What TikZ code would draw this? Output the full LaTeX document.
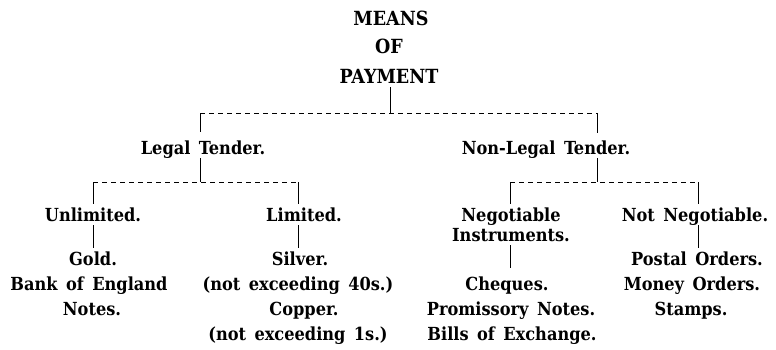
\documentclass[tikz,border=0pt]{standalone}
\usepackage{fontspec}
\setmainfont[WordSpace=1.5]{DejaVu Serif Condensed}
\begin{document}
\begin{tikzpicture}[x=1pt,y=-1pt,
  txt/.style={font=\fontsize{18}{22}\selectfont\bfseries, anchor=base, inner sep=0pt, outer sep=4pt, text height=13pt, text depth=0pt},
  ttl/.style={txt, font=\fontsize{19.5}{22}\selectfont\bfseries},
  conn/.style={line width=0.9pt},
  brk/.style={line width=0.9pt, dash pattern=on 5pt off 4pt}]
\useasboundingbox (0,0) rectangle (776,349);
% title
\node[ttl] (means) at (391,25) {MEANS};
\node[ttl] (of) at (389,53) {OF};
\node[ttl] (payment) at (389,83) {PAYMENT};
% level 1
\node[txt] (legal) at (203,154) {Legal Tender.};
\node[txt] (nonlegal) at (546,154) {Non-Legal Tender.};
% level 2
\node[txt] (unlim) at (93,221) {Unlimited.};
\node[txt] (limited) at (304,221) {Limited.};
\node[txt] (negot) at (511,221) {Negotiable};
\node[txt] (instr) at (511,241) {Instruments.};
\node[txt] (notneg) at (695,221) {Not Negotiable.};
% leaves
\node[txt] (gold) at (93,265) {Gold.};
\node[txt] (bank) at (89,290) {Bank of England};
\node[txt] (notes) at (92,315) {Notes.};
\node[txt] (silver) at (300,265) {Silver.};
\node[txt] (nexa) at (298,290) {(not exceeding 40s.)};
\node[txt] (copper) at (304,315) {Copper.};
\node[txt] (nexb) at (298,340) {(not exceeding 1s.)};
\node[txt] (cheques) at (507,290) {Cheques.};
\node[txt] (promis) at (511,315) {Promissory Notes.};
\node[txt] (bills) at (512,340) {Bills of Exchange.};
\node[txt] (postal) at (697,265) {Postal Orders.};
\node[txt] (money) at (692,290) {Money Orders.};
\node[txt] (stamps) at (691,315) {Stamps.};
% junctions
\coordinate (j0) at (390,113);
\coordinate (jLt) at (200,113);
\coordinate (jNt) at (597,113);
\coordinate (jLb) at (200,182);
\coordinate (jU) at (93,182);
\coordinate (jLim) at (298,182);
\coordinate (jNb) at (597,182);
\coordinate (jNeg) at (510,182);
\coordinate (jNot) at (698,182);
% connectors
\draw[conn] (payment.south -| j0) -- (j0);
\draw[brk] (jLt) -- (jNt);
\draw[conn, shorten >=5pt] (jLt) -- (legal.north -| jLt);
\draw[conn, shorten >=4pt] (jNt) -- (nonlegal.north -| jNt);
\draw[conn] (legal.south -| jLb) -- (jLb);
\draw[brk] (jU) -- (jLim);
\draw[conn] (jU) -- (unlim.north -| jU);
\draw[conn] (jLim) -- (limited.north -| jLim);
\draw[conn] (unlim.south -| jU) -- (gold.north -| jU);
\draw[conn] (limited.south -| jLim) -- (silver.north -| jLim);
\draw[conn] (nonlegal.south -| jNb) -- (jNb);
\draw[brk] (jNeg) -- (jNot);
\draw[conn] (jNeg) -- (negot.north -| jNeg);
\draw[conn] (jNot) -- (notneg.north -| jNot);
\draw[conn, shorten >=5pt] (instr.south -| jNeg) -- (cheques.north -| jNeg);
\draw[conn] (notneg.south -| jNot) -- (postal.north -| jNot);
\end{tikzpicture}
\end{document}
